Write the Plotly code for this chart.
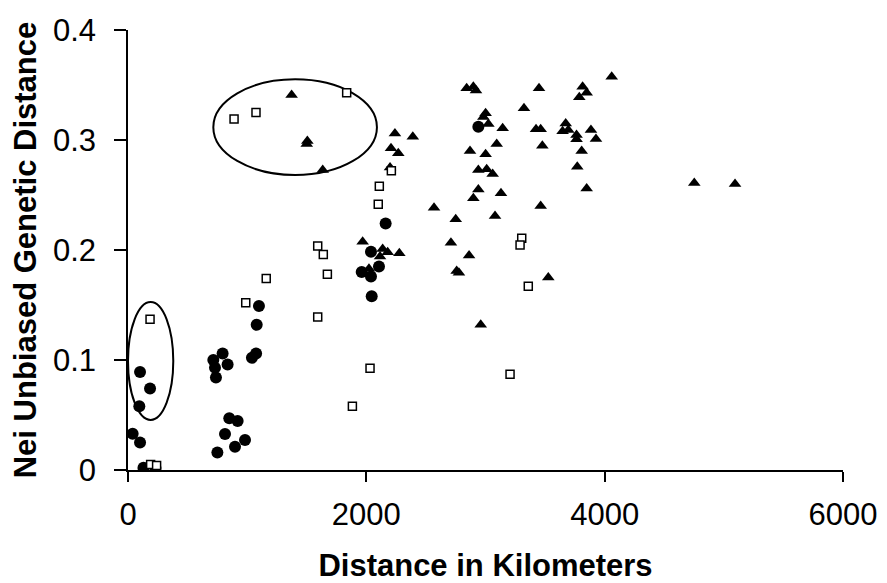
import plotly.graph_objects as go

# ---- data ----
circle_x = [130, 230, 39, 101, 101, 185, 95,
            716, 730, 738, 794, 836,
            1099, 1080, 1040, 1075,
            850, 920, 814, 982, 898, 750,
            2162, 2039, 2106, 1961, 2039, 2045,
            2940]
circle_y = [0.002, 0.002, 0.033, 0.025, 0.089, 0.074, 0.058,
            0.100, 0.093, 0.084, 0.106, 0.096,
            0.149, 0.132, 0.102, 0.106,
            0.047, 0.0445, 0.0327, 0.0273, 0.0212, 0.016,
            0.224, 0.1985, 0.185, 0.180, 0.176, 0.158,
            0.312]

square_x = [185, 190, 240,
            890, 1074, 1835,
            988, 1160,
            1592, 1639, 1673, 1592,
            2031, 1883,
            2109, 2100, 2210,
            3304, 3290, 3359, 3206]
square_y = [0.137, 0.005, 0.004,
            0.319, 0.325, 0.343,
            0.152, 0.174,
            0.2036, 0.196, 0.178, 0.139,
            0.0924, 0.058,
            0.258, 0.2415, 0.272,
            0.2106, 0.2045, 0.167, 0.087]

triangle_x = [1373, 1505, 1500, 1634,
              2240, 2207, 2268, 2199, 2390,
              1969, 2137, 2179, 2115, 2277, 2022,
              2568, 2750, 2710, 2862, 2758, 2777, 2960,
              2842, 2898, 2920, 3449, 4059, 3815, 3849, 3787, 3323,
              3001, 2982, 3024, 3144, 3424, 3463, 3673, 3647, 3695, 3764, 3764, 3885, 3927,
              3094, 3477, 2870, 3001, 3807, 3770,
              2940, 3010, 3060, 3849, 2940, 2898, 3130,
              3463, 3080, 3527,
              4752, 5094]
triangle_y = [0.341, 0.299, 0.2964, 0.2727,
              0.306, 0.2924, 0.288, 0.275, 0.303,
              0.2076, 0.2009, 0.198, 0.194, 0.197, 0.183,
              0.2385, 0.228, 0.2067, 0.195, 0.181, 0.1794, 0.132,
              0.347, 0.3485, 0.345, 0.347, 0.3576, 0.3485, 0.343, 0.3388, 0.3288,
              0.3243, 0.321, 0.3145, 0.3106, 0.3097, 0.3097, 0.315, 0.308, 0.309, 0.3045, 0.3006, 0.309, 0.301,
              0.2964, 0.2948, 0.290, 0.287, 0.290, 0.2757,
              0.2727, 0.2733, 0.269, 0.256, 0.255, 0.247, 0.2515,
              0.240, 0.231, 0.175,
              0.261, 0.260]

x_tickvals = [0, 2000, 4000, 6000]
x_ticktext = ["0", "2000", "4000", "6000"]
y_tickvals = [0, 0.1, 0.2, 0.3, 0.4]
y_ticktext = ["0", "0.1", "0.2", "0.3", "0.4"]

# highlighted groups (ellipse bounds in data units)
ellipse_low = dict(x0=0, x1=380, y0=0.0455, y1=0.1527)
ellipse_high = dict(x0=716, x1=2089, y0=0.2682, y1=0.3552)

x_title = "Distance in Kilometers"
y_title = "Nei Unbiased Genetic Distance"

FONT = "Liberation Sans, Arial, Helvetica, sans-serif"

fig = go.Figure()
fig.add_trace(go.Scatter(x=triangle_x, y=triangle_y, mode="markers",
                         marker=dict(symbol="triangle-up", size=11, color="black",
                                     line=dict(width=0))))
fig.add_trace(go.Scatter(x=circle_x, y=circle_y, mode="markers",
                         marker=dict(symbol="circle", size=12, color="black",
                                     line=dict(width=0))))
fig.add_trace(go.Scatter(x=square_x, y=square_y, mode="markers",
                         marker=dict(symbol="square", size=8, color="white",
                                     line=dict(width=1.5, color="black"))))

for e in (ellipse_low, ellipse_high):
    fig.add_shape(type="circle", xref="x", yref="y", layer="below",
                  line=dict(color="black", width=2), **e)

# page body has an 8px margin; the figure is sized/margined to compensate
fig.update_layout(
    width=879, height=575,
    margin=dict(l=120, r=44, t=22, b=113),
    paper_bgcolor="white", plot_bgcolor="white",
    showlegend=False,
    font=dict(family=FONT, color="black"),
)
fig.update_xaxes(
    range=[0, 6000], tickvals=x_tickvals, ticktext=x_ticktext,
    showline=True, linecolor="black", linewidth=1.5,
    ticks="outside", ticklen=10, tickwidth=1.5, tickcolor="black",
    showgrid=False, zeroline=False,
    tickfont=dict(size=31, family=FONT), ticklabelstandoff=6,
    title=dict(text="<b>" + x_title + "</b>", font=dict(size=31, family=FONT), standoff=26),
    automargin=False,
)
fig.update_yaxes(
    range=[0, 0.4], tickvals=y_tickvals, ticktext=y_ticktext,
    showline=True, linecolor="black", linewidth=1.5,
    ticks="outside", ticklen=12, tickwidth=1.5, tickcolor="black",
    showgrid=False, zeroline=False,
    tickfont=dict(size=31, family=FONT), ticklabelstandoff=12,
    title=dict(text="<b>" + y_title + "</b>", font=dict(size=31, family=FONT), standoff=9),
    automargin=False,
)

fig.write_html("out.html")
